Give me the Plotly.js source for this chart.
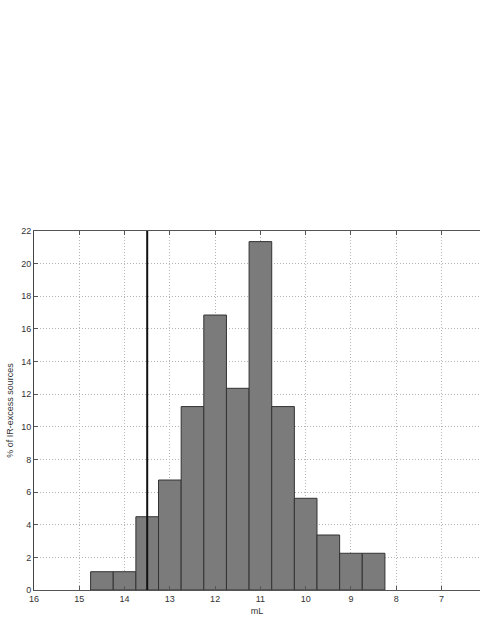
<!DOCTYPE html>
<html>
<head>
<meta charset="utf-8">
<script src="https://cdn.plot.ly/plotly-3.0.1.min.js"></script>
<style>
  html, body { margin: 0; padding: 0; background: #fff; }
  #chart { width: 480px; height: 621px; }
</style>
</head>
<body>
<div id="chart"></div>
<script>
// bin centres (mL) and share of IR-excess sources per bin (%)
var binCenters = [14.5, 14.0, 13.5, 13.0, 12.5, 12.0, 11.5, 11.0, 10.5, 10.0, 9.5, 9.0, 8.5];
var percents = [1.12, 1.12, 4.49, 6.74, 11.24, 16.85, 12.36, 21.35, 11.24, 5.62, 3.37, 2.25, 2.25];
var binWidth = 0.5;

// completeness limit marker
var limitMag = [13.5, 13.5];
var limitPct = [0, 22];

var xTicks = [16, 15, 14, 13, 12, 11, 10, 9, 8, 7];
var yTicks = [0, 2, 4, 6, 8, 10, 12, 14, 16, 18, 20, 22];

var hist = {
    type: 'bar',
    x: binCenters,
    y: percents,
    width: binWidth,
    marker: {
        color: '#7b7b7b',
        line: { color: '#333333', width: 1 }
    },
    hoverinfo: 'x+y'
};

var limit = {
    type: 'scatter',
    mode: 'lines',
    x: limitMag,
    y: limitPct,
    line: { color: '#111111', width: 2 },
    hoverinfo: 'skip'
};

var tickFont = { family: 'Liberation Sans, Arial, sans-serif', size: 9, color: '#333' };

var layout = {
    width: 480,
    height: 621,
    margin: { l: 34, r: 0, t: 231, b: 31 },
    paper_bgcolor: '#ffffff',
    plot_bgcolor: '#ffffff',
    showlegend: false,
    bargap: 0,
    xaxis: {
        range: [16, 6.15],
        tickvals: xTicks,
        ticktext: xTicks.map(String),
        ticks: 'inside',
        ticklen: 4,
        tickcolor: '#555',
        showline: true,
        linecolor: '#555',
        linewidth: 1,
        mirror: 'ticks',
        showgrid: true,
        gridcolor: '#b4b4b4',
        griddash: '1px,2px',
        gridwidth: 1,
        zeroline: false,
        tickfont: tickFont,
        title: { text: 'mL', font: tickFont, standoff: 4 }
    },
    yaxis: {
        range: [0, 22],
        tickvals: yTicks,
        ticks: 'inside',
        ticklen: 4,
        tickcolor: '#555',
        showline: true,
        linecolor: '#444',
        linewidth: 1,
        mirror: false,
        showgrid: true,
        gridcolor: '#b4b4b4',
        griddash: '1px,2px',
        gridwidth: 1,
        zeroline: false,
        tickfont: tickFont,
        title: { text: '% of IR-excess sources', font: tickFont, standoff: 6 }
    }
};

Plotly.newPlot('chart', [hist, limit], layout, { displayModeBar: false, staticPlot: true });
</script>
</body>
</html>
